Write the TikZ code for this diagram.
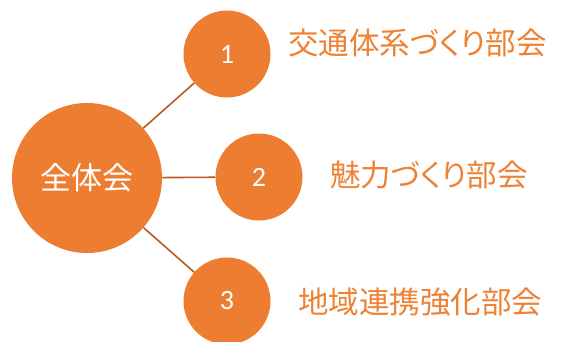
\documentclass[tikz,border=0pt]{standalone}
\usepackage{fontspec}
\setmainfont{Noto Sans CJK JP}
\newfontfamily\cjk{Noto Sans CJK JP}
\newfontfamily\cjkp[RawFeature=+palt]{Noto Sans CJK JP}
\newfontfamily\numfont{Carlito}
\definecolor{orfill}{HTML}{ED7D31}
\definecolor{ortext}{HTML}{EE8234}
\definecolor{orline}{HTML}{B95A22}
\begin{document}
\begin{tikzpicture}[x=1pt,y=-1pt,
  hub/.style={circle,fill=orfill,draw=none,minimum size=150pt,inner sep=0pt,text=white,font=\cjk\fontsize{31}{31}\selectfont},
  sub/.style={circle,fill=orfill,draw=none,minimum size=87pt,inner sep=0pt,text=white,font=\numfont\fontsize{28}{28}\selectfont},
  lbl/.style={anchor=west,inner sep=0pt,text=ortext,font=\cjkp\fontsize{30.5}{30.5}\selectfont},
  conn/.style={draw=orline,line width=1.6pt}]
\useasboundingbox (0,0) rectangle (567,341);
\node[hub] (all) at (87,178) {全体会};
\node[sub] (c1) at (227,54) {1};
\node[sub] (c2) at (259,177) {2};
\node[sub] (c3) at (227,301) {3};
\draw[conn] (all) -- (c1);
\draw[conn] (all) -- (c2);
\draw[conn] (all) -- (c3);
\node[lbl] (t1) at (288,43) {交通体系づくり部会};
\node[lbl] (t2) at (330,175) {魅力づくり部会};
\node[lbl] (t3) at (298,302) {地域連携強化部会};
\end{tikzpicture}
\end{document}
